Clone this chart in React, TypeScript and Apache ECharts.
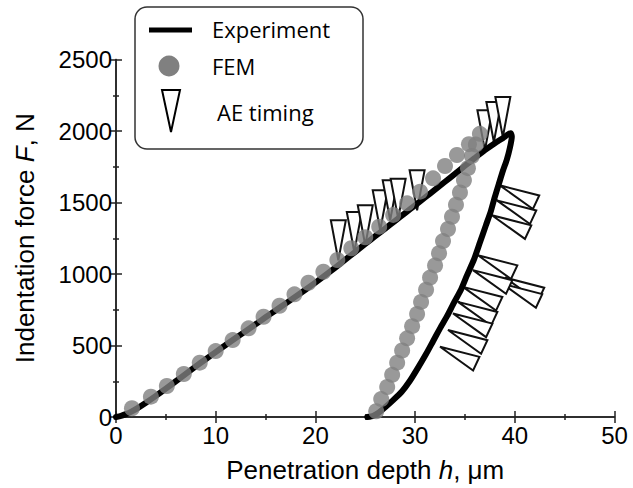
import React, { useEffect, useRef } from 'react';
import * as echarts from 'echarts';

// Experiment (loading branch)
const expLoadH = [0, 0.5, 1.0, 1.5, 2.0, 3.0, 4.0, 5.0, 6.0, 7.0, 8.0, 9.0, 10.0, 11.0, 12.0, 13.0, 14.0, 15.0, 16.0, 17.0, 18.0, 19.0, 20.0, 21.0, 22.0, 23.0, 24.0, 25.0, 26.0, 27.0, 28.0, 29.0, 30.0, 31.0, 32.0, 33.0, 34.0, 35.0, 36.0, 37.0, 38.0, 38.8, 39.3, 39.6];
const expLoadF = [0, 8, 20, 36, 55, 100, 148, 198, 250, 302, 354, 404, 454, 503, 552, 600, 648, 697, 745, 793, 842, 890, 940, 992, 1045, 1100, 1155, 1210, 1264, 1318, 1372, 1426, 1480, 1535, 1590, 1645, 1700, 1757, 1812, 1866, 1915, 1950, 1975, 1985];
// Experiment (unloading branch)
const expUnloadH = [39.7, 39.5, 39.2, 38.8, 38.4, 38.0, 37.6, 37.1, 36.5, 35.9, 35.2, 34.6, 33.9, 33.2, 32.5, 31.8, 31.1, 30.3, 29.5, 28.7, 27.8, 27.0, 26.3, 25.8, 25.2];
const expUnloadF = [1960, 1880, 1800, 1720, 1630, 1540, 1440, 1340, 1220, 1100, 990, 890, 800, 705, 620, 530, 440, 345, 255, 180, 118, 68, 28, 8, 0];

// FEM (loading branch)
const femLoadH = [1.6, 3.5, 5.1, 6.8, 8.4, 10.0, 11.7, 13.3, 14.8, 16.4, 17.9, 19.3, 20.8, 22.2, 23.6, 25.0, 26.4, 27.8, 29.2, 30.5, 31.8, 33.0, 34.2, 35.4, 36.5];
const femLoadF = [61, 142, 217, 301, 380, 461, 538, 620, 701, 778, 858, 939, 1016, 1098, 1180, 1257, 1331, 1413, 1494, 1576, 1669, 1755, 1832, 1908, 1980];
// FEM (unloading branch)
const femUnloadH = [36.1, 35.7, 35.3, 34.9, 34.5, 34.1, 33.7, 33.3, 32.8, 32.4, 32.0, 31.5, 31.1, 30.6, 30.2, 29.7, 29.2, 28.7, 28.2, 27.7, 27.2, 26.6, 26.1];
const femUnloadF = [1905, 1825, 1740, 1655, 1570, 1485, 1400, 1315, 1230, 1145, 1060, 975, 890, 805, 720, 635, 550, 465, 380, 295, 210, 125, 40];

// AE timing (during loading)
const aeLoadH = [22.3, 23.9, 25.0, 26.5, 27.5, 28.3, 30.2, 37.0, 37.9, 38.8];
const aeLoadF = [1096, 1154, 1201, 1306, 1376, 1387, 1446, 1865, 1923, 1958];
// AE timing (during unloading)
const aeUnloadH = [38.5, 38.2, 37.7, 39.0, 38.8, 36.3, 35.8, 34.8, 34.3, 33.8, 33.3, 32.5];
const aeUnloadF = [1620, 1515, 1411, 975, 930, 1131, 1027, 910, 805, 724, 608, 491];

const FONT = '"Liberation Sans", Arial, sans-serif';
const LEGEND_FONT = '"Open Sans", "Noto Sans", sans-serif';

const pairs = (h: number[], f: number[]) => h.map((v, i) => [v, f[i]]);

function triangleSeries(name: string, data: number[][], angleDeg: number) {
  const a = (angleDeg * Math.PI) / 180;
  const dx = Math.cos(a);
  const dy = Math.sin(a);
  const L = 40;
  const hw = 7.5;
  return {
    type: 'custom',
    name,
    data,
    z: 2,
    encode: { x: 0, y: 1 },
    renderItem: (params: any, api: any) => {
      const p = api.coord([api.value(0), api.value(1)]);
      const bx = p[0] + dx * L;
      const by = p[1] + dy * L;
      const nx = -dy * hw;
      const ny = dx * hw;
      return {
        type: 'polygon',
        shape: { points: [[p[0], p[1]], [bx + nx, by + ny], [bx - nx, by - ny]] },
        style: { fill: '#fff', stroke: '#111', lineWidth: 2 },
      };
    },
  };
}

export default function App() {
  const ref = useRef<HTMLDivElement>(null);
  useEffect(() => {
    if (!ref.current) return;
    const chart = echarts.init(ref.current, null, { renderer: 'svg' });
    const axisLine = { show: true, lineStyle: { color: '#222', width: 1.5 } };
    const tick = { show: true, inside: true, length: 6, lineStyle: { color: '#222', width: 1.5 } };
    const minor = { show: true, splitNumber: 2, length: 3, lineStyle: { color: '#222', width: 1.5 } };
    const label = { color: '#000', fontFamily: FONT, fontSize: 24, formatter: (v: number) => String(v) };
    chart.setOption({
      animation: false,
      backgroundColor: '#fff',
      grid: { left: 116, right: 18.5, top: 59.5, bottom: 71 },
      xAxis: [
        {
          type: 'value', min: 0, max: 50, interval: 10, position: 'bottom',
          axisLine, axisTick: tick, minorTick: minor, splitLine: { show: false },
          axisLabel: { ...label, margin: 6 },
          name: 'Penetration depth {i|h}, μm', nameLocation: 'middle', nameGap: 40,
          nameTextStyle: { color: '#000', fontFamily: FONT, fontSize: 26, rich: { i: { fontStyle: 'italic', fontFamily: FONT, fontSize: 26, color: '#000' } } },
        },
        {
          type: 'value', min: 0, max: 50, interval: 10, position: 'top',
          axisLine, axisTick: tick, minorTick: minor, splitLine: { show: false },
          axisLabel: { show: false },
        },
      ],
      yAxis: [
        {
          type: 'value', min: 0, max: 2500, interval: 500, position: 'left',
          axisLine, axisTick: tick, minorTick: minor, splitLine: { show: false },
          axisLabel: { ...label, margin: 4 },
          name: 'Indentation force {i|F}, N', nameLocation: 'middle', nameGap: 78, nameRotate: 90,
          nameTextStyle: { color: '#000', fontFamily: FONT, fontSize: 26, rich: { i: { fontStyle: 'italic', fontFamily: FONT, fontSize: 26, color: '#000' } } },
        },
        {
          type: 'value', min: 0, max: 2500, interval: 500, position: 'right',
          axisLine, axisTick: tick, minorTick: minor, splitLine: { show: false },
          axisLabel: { show: false },
        },
      ],
      series: [
        triangleSeries('AE timing (loading)', pairs(aeLoadH, aeLoadF), -90),
        triangleSeries('AE timing (unloading)', pairs(aeUnloadH, aeUnloadF), 25),
        {
          type: 'line', name: 'Experiment', z: 3,
          data: [...pairs(expLoadH, expLoadF), ...pairs(expUnloadH, expUnloadF)],
          showSymbol: false, symbol: 'none', smooth: 0.2,
          lineStyle: { color: '#000', width: 6, join: 'round', cap: 'round' },
        },
        {
          type: 'scatter', name: 'FEM', z: 4,
          data: [...pairs(femLoadH, femLoadF), ...pairs(femUnloadH, femUnloadF)],
          symbol: 'circle', symbolSize: 16,
          itemStyle: { color: '#808080' },
        },
      ],
      graphic: [
        {
          type: 'group', z: 100,
          children: [
            { type: 'rect', shape: { x: 135, y: 7, width: 228, height: 142, r: 12 }, style: { fill: '#fff', stroke: '#333', lineWidth: 1.5 } },
            { type: 'line', shape: { x1: 149, y1: 30, x2: 192, y2: 30 }, style: { stroke: '#000', lineWidth: 5 } },
            { type: 'text', x: 212, y: 29, style: { text: 'Experiment', fill: '#000', font: `22px ${LEGEND_FONT}`, verticalAlign: 'middle', align: 'left' } },
            { type: 'circle', shape: { cx: 169, cy: 66, r: 10.5 }, style: { fill: '#808080' } },
            { type: 'text', x: 212, y: 66, style: { text: 'FEM', fill: '#000', font: `22px ${LEGEND_FONT}`, verticalAlign: 'middle', align: 'left' } },
            { type: 'polygon', shape: { points: [[162, 90], [180, 90], [171, 132]] }, style: { fill: '#fff', stroke: '#000', lineWidth: 2 } },
            { type: 'text', x: 217, y: 112, style: { text: 'AE timing', fill: '#000', font: `22px ${LEGEND_FONT}`, verticalAlign: 'middle', align: 'left' } },
          ],
        },
      ],
    });
    return () => chart.dispose();
  }, []);
  return <div ref={ref} style={{ position: 'fixed', left: 0, top: 0, width: 633, height: 488 }} />;
}
